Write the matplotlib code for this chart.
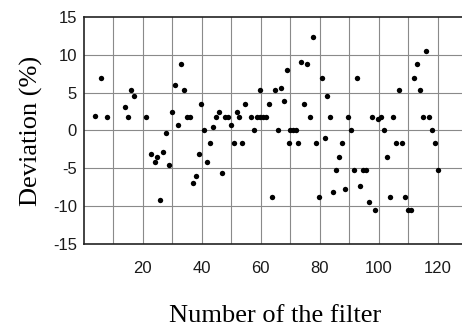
import matplotlib
matplotlib.use("Agg")
import matplotlib.pyplot as plt

filter_no = [3.8, 5.8, 7.9, 14.0, 14.9, 15.9, 16.9, 21.0, 22.9, 24.1,
             24.9, 26.0, 27.0, 27.9, 29.0, 30.0, 31.0, 32.0, 33.0, 34.0,
             34.9, 36.0, 36.9, 38.0, 39.0, 39.6, 40.9, 41.9, 42.8, 43.9,
             44.8, 45.9, 46.9, 47.9, 48.9, 49.8, 50.8, 51.9, 52.7, 53.8,
             54.8, 56.6, 57.7, 58.6, 59.6, 59.8, 60.8, 61.7, 62.8, 63.8,
             64.7, 65.8, 66.8, 67.8, 68.8, 69.7, 70.0, 70.8, 71.9, 72.6,
             73.8, 74.7, 75.6, 76.7, 77.6, 78.7, 79.7, 80.7, 81.7, 82.6,
             83.6, 84.6, 85.6, 86.6, 87.7, 88.7, 89.7, 90.6, 91.6, 92.8,
             93.7, 94.7, 95.7, 96.8, 97.6, 98.8, 99.9, 100.8, 101.8, 102.8,
             103.8, 104.7, 105.9, 106.8, 107.9, 109.0, 109.9, 111.1, 111.9, 112.9,
             113.9, 114.9, 115.9, 116.9, 118.1, 119.1, 120.1]
deviation = [1.9, 7.0, 1.8, 3.1, 1.8, 5.3, 4.6, 1.8, -3.1, -4.2,
             -3.5, -9.2, -2.8, -0.3, -4.5, 2.5, 6.0, 0.7, 8.8, 5.3,
             1.8, 1.8, -7.0, -6.0, -3.1, 3.5, 0.0, -4.2, -1.7, 0.4,
             1.8, 2.5, -5.6, 1.8, 1.8, 0.7, -1.7, 2.5, 1.8, -1.7,
             3.5, 1.8, 0.0, 1.8, 1.8, 5.3, 1.8, 1.8, 3.5, -8.8,
             5.3, 0.0, 5.6, 3.9, 8.0, -1.7, 0.0, 0.0, 0.0, -1.7,
             9.1, 3.5, 8.8, 1.8, 12.3, -1.7, -8.8, 7.0, -1.0, 4.6,
             1.8, -8.1, -5.2, -3.5, -1.7, -7.7, 1.8, 0.0, -5.2, 7.0,
             -7.4, -5.2, -5.2, -9.5, 1.8, -10.5, 1.5, 1.8, 0.0, -3.5,
             -8.8, 1.8, -1.7, 5.3, -1.7, -8.8, -10.5, -10.5, 7.0, 8.8,
             5.3, 1.8, 10.5, 1.8, 0.0, -1.7, -5.2]

x_ticks = [20, 40, 60, 80, 100, 120]
x_grid = [10, 20, 30, 40, 50, 60, 70, 80, 90, 100, 110, 120]
y_ticks = [-15, -10, -5, 0, 5, 10, 15]

fig = plt.figure(figsize=(4.62, 3.29), dpi=100)
ax = fig.add_axes([0.1812, 0.2584, 0.830, 0.6900])

for gx in x_grid:
    ax.axvline(gx, color="#8a8a8a", lw=0.8, zorder=1)
for gy in y_ticks[1:-1]:
    ax.axhline(gy, color="#8a8a8a", lw=0.8, zorder=1)

ax.scatter(filter_no, deviation, s=15, color="black", zorder=3, linewidths=0)

ax.set_xlim(0, 130)
ax.set_ylim(-15, 15)
ax.set_xticks(x_ticks)
ax.set_yticks(y_ticks)
ax.set_yticklabels([str(v) for v in y_ticks])
ax.tick_params(length=0, labelsize=12, colors="#1a1a1a")
ax.tick_params(axis="x", pad=12)
ax.tick_params(axis="y", pad=5)
for lab in ax.get_xticklabels() + ax.get_yticklabels():
    lab.set_fontfamily("Liberation Sans")

for s in ax.spines.values():
    s.set_color("#222222")
    s.set_linewidth(1.2)

ax.set_xlabel("Number of the filter", fontfamily="Liberation Serif",
              fontsize=19, labelpad=21)
ax.set_ylabel("Deviation (%)", fontfamily="Liberation Serif",
              fontsize=19, labelpad=7)

fig.savefig("out.png", dpi=100)
